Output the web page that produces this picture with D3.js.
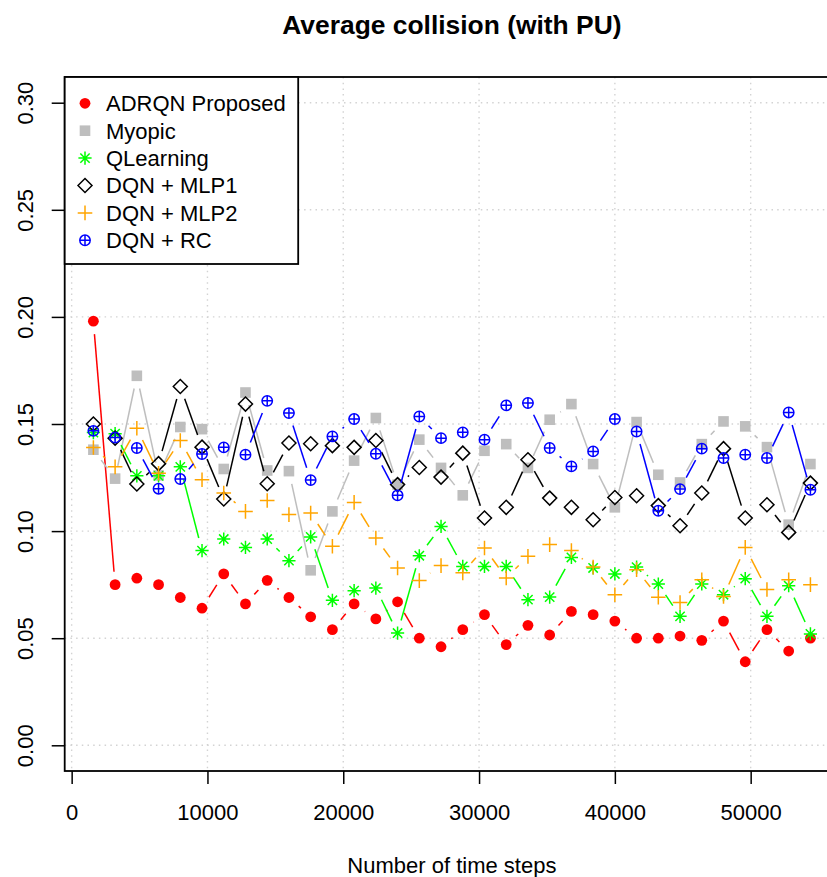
<!DOCTYPE html>
<html>
<head>
<meta charset="utf-8">
<script src="https://cdn.jsdelivr.net/npm/d3@7"></script>
<style>
  body { margin: 0; background: #fff; }
  text { font-family: "Liberation Sans", Arial, sans-serif; fill: #000; }
</style>
</head>
<body>
<svg width="827" height="877"></svg>
<script>
// time steps (x)
const steps = [1600, 3200, 4800, 6400, 8000, 9600, 11200, 12800, 14400, 16000,
  17600, 19200, 20800, 22400, 24000, 25600, 27200, 28800, 30400, 32000,
  33600, 35200, 36800, 38400, 40000, 41600, 43200, 44800, 46400, 48000,
  49600, 51200, 52800, 54400];

const adrqn = [0.198, 0.075, 0.078, 0.075, 0.069, 0.064, 0.080, 0.066, 0.077, 0.069,
  0.060, 0.054, 0.066, 0.059, 0.067, 0.050, 0.046, 0.054, 0.061, 0.047,
  0.056, 0.0515, 0.0625, 0.061, 0.058, 0.050, 0.050, 0.051, 0.049, 0.058,
  0.039, 0.054, 0.044, 0.050];
const myopic = [0.138, 0.1245, 0.1725, 0.126, 0.1486, 0.1476, 0.129, 0.1647, 0.1283, 0.128,
  0.0817, 0.1092, 0.1329, 0.1528, 0.1217, 0.1427, 0.1295, 0.1167, 0.1375, 0.1406,
  0.1295, 0.152, 0.1593, 0.1313, 0.1111, 0.1509, 0.1263, 0.1227, 0.1406, 0.1512,
  0.1489, 0.1392, 0.103, 0.1313];
const qlearning = [0.146, 0.1455, 0.1258, 0.1258, 0.130, 0.0909, 0.0963, 0.0924, 0.0963, 0.0862,
  0.0973, 0.0677, 0.0722, 0.0734, 0.0524, 0.0885, 0.1022, 0.0835, 0.0835, 0.0835,
  0.068, 0.0692, 0.0877, 0.0828, 0.080, 0.0832, 0.0753, 0.0602, 0.0753, 0.0703,
  0.0778, 0.0602, 0.0745, 0.052];
const mlp1 = [0.150, 0.1434, 0.122, 0.1315, 0.1675, 0.1392, 0.115, 0.1593, 0.1221, 0.1411,
  0.1408, 0.1399, 0.1391, 0.1423, 0.1217, 0.1297, 0.1252, 0.1364, 0.1061, 0.1111,
  0.1333, 0.1154, 0.1111, 0.1053, 0.1157, 0.1165, 0.1119, 0.1025, 0.1178, 0.1385,
  0.1061, 0.1123, 0.0994, 0.1224];
const mlp2 = [0.139, 0.130, 0.148, 0.127, 0.1423, 0.124, 0.1178, 0.1092, 0.1143, 0.1077,
  0.1084, 0.0929, 0.1134, 0.0968, 0.0828, 0.0769, 0.0839, 0.0805, 0.0921, 0.0781,
  0.0882, 0.0937, 0.0909, 0.0832, 0.0703, 0.082, 0.0691, 0.0667, 0.0773, 0.0695,
  0.0924, 0.0727, 0.0773, 0.075];
const rc = [0.1468, 0.1437, 0.1388, 0.1198, 0.1243, 0.136, 0.1391, 0.1357, 0.1608, 0.1551,
  0.1238, 0.1442, 0.1523, 0.1361, 0.1167, 0.1535, 0.1434, 0.1461, 0.1427, 0.1587,
  0.1598, 0.1388, 0.1302, 0.1372, 0.1523, 0.1465, 0.1095, 0.1196, 0.1385, 0.1341,
  0.1357, 0.1341, 0.1554, 0.1193];

const seriesNames = ["ADRQN Proposed", "Myopic", "QLearning", "DQN + MLP1", "DQN + MLP2", "DQN + RC"];
const seriesValues = [adrqn, myopic, qlearning, mlp1, mlp2, rc];
const seriesColors = ["#FF0000", "#BEBEBE", "#00FF00", "#000000", "#FFA500", "#0000FF"];
const seriesSymbols = ["dot", "square", "asterisk", "diamond", "plus", "circleplus"];

const xTicks = [0, 10000, 20000, 30000, 40000, 50000];
const yTicks = [0, 0.05, 0.10, 0.15, 0.20, 0.25, 0.30];

const svg = d3.select("svg");
const plotL = 64.7, plotR = 839.1, plotT = 77, plotB = 771;
const x = d3.scaleLinear().domain([-512, 56512]).range([plotL, plotR]);
const y = d3.scaleLinear().domain([-0.012, 0.312]).range([plotB, plotT]);

// grid
const grid = svg.append("g")
  .attr("stroke", "#D3D3D3").attr("stroke-width", 1.4).attr("stroke-dasharray", "1.5,4.2");
grid.selectAll(".gx").data(xTicks).join("line")
  .attr("x1", d => x(d)).attr("x2", d => x(d)).attr("y1", plotT).attr("y2", plotB);
grid.selectAll(".gy").data(yTicks).join("line")
  .attr("x1", plotL).attr("x2", plotR).attr("y1", d => y(d)).attr("y2", d => y(d));

// axes
const xAxis = svg.append("g").attr("transform", `translate(0,${plotB})`)
  .call(d3.axisBottom(x).tickValues(xTicks).tickFormat(d3.format("d")).tickSize(13).tickPadding(20));
xAxis.select(".domain").remove();
xAxis.selectAll("line").attr("stroke-width", 1.5);
xAxis.selectAll("text").attr("font-size", 22).attr("font-family", "Liberation Sans, Arial, sans-serif");

const yAxis = svg.append("g").attr("transform", `translate(${plotL},0)`)
  .call(d3.axisLeft(y).tickValues(yTicks).tickFormat(d3.format(".2f")).tickSize(13));
yAxis.select(".domain").remove();
yAxis.selectAll("line").attr("stroke-width", 1.5);
yAxis.selectAll("text")
  .attr("x", 0).attr("y", 0).attr("dy", 0)
  .attr("text-anchor", "middle")
  .attr("transform", "translate(-31.7,0) rotate(-90)")
  .attr("font-size", 22).attr("font-family", "Liberation Sans, Arial, sans-serif");

// symbols in R style
function drawSymbol(g, type, color) {
  if (type === "dot") {
    g.append("circle").attr("r", 5.4).attr("fill", color);
  } else if (type === "square") {
    g.append("rect").attr("x", -5.3).attr("y", -5.3).attr("width", 10.6).attr("height", 10.6).attr("fill", color);
  } else if (type === "asterisk") {
    const r = 6.6, d = r * 0.707;
    g.append("path").attr("d", `M${-r},0H${r}M0,${-r}V${r}M${-d},${-d}L${d},${d}M${-d},${d}L${d},${-d}`)
      .attr("stroke", color).attr("stroke-width", 1.5).attr("fill", "none");
  } else if (type === "diamond") {
    const r = 7;
    g.append("path").attr("d", `M0,${-r}L${r},0L0,${r}L${-r},0Z`)
      .attr("stroke", color).attr("stroke-width", 1.5).attr("fill", "none");
  } else if (type === "plus") {
    const r = 7.3;
    g.append("path").attr("d", `M${-r},0H${r}M0,${-r}V${r}`)
      .attr("stroke", color).attr("stroke-width", 1.5).attr("fill", "none");
  } else if (type === "circleplus") {
    const r = 5.2;
    g.append("circle").attr("r", r).attr("stroke", color).attr("stroke-width", 1.5).attr("fill", "none");
    g.append("path").attr("d", `M${-r},0H${r}M0,${-r}V${r}`)
      .attr("stroke", color).attr("stroke-width", 1.5);
  }
}

// type = "b": segments with a gap round each point
const gap = 13;
seriesValues.forEach((vals, k) => {
  const pts = vals.map((v, i) => [x(steps[i]), y(v)]);
  const g = svg.append("g");
  for (let i = 0; i < pts.length - 1; i++) {
    const [x0, y0] = pts[i], [x1, y1] = pts[i + 1];
    const L = Math.hypot(x1 - x0, y1 - y0);
    if (L <= 2 * gap) continue;
    const ux = (x1 - x0) / L, uy = (y1 - y0) / L;
    g.append("line")
      .attr("x1", x0 + ux * gap).attr("y1", y0 + uy * gap)
      .attr("x2", x1 - ux * gap).attr("y2", y1 - uy * gap)
      .attr("stroke", seriesColors[k]).attr("stroke-width", 1.5);
  }
  pts.forEach(p => {
    drawSymbol(g.append("g").attr("transform", `translate(${p[0]},${p[1]})`), seriesSymbols[k], seriesColors[k]);
  });
});

// box
svg.append("rect").attr("x", plotL).attr("y", plotT).attr("width", plotR - plotL).attr("height", plotB - plotT)
  .attr("fill", "none").attr("stroke", "#000").attr("stroke-width", 1.8);

// legend
const legend = svg.append("g");
legend.append("rect").attr("x", plotL).attr("y", plotT).attr("width", 233.5).attr("height", 187)
  .attr("fill", "#fff").attr("stroke", "#000").attr("stroke-width", 1.8);
seriesNames.forEach((name, k) => {
  const cy = 103.3 + k * 27.4;
  drawSymbol(legend.append("g").attr("transform", `translate(85,${cy})`), seriesSymbols[k], seriesColors[k]);
  legend.append("text").attr("x", 106).attr("y", cy).attr("dy", "0.36em")
    .attr("font-size", 22).text(name);
});

// titles
svg.append("text").attr("x", (plotL + plotR) / 2).attr("y", 34).attr("text-anchor", "middle")
  .attr("font-size", 26.4).attr("font-weight", "bold").text("Average collision (with PU)");
svg.append("text").attr("x", (plotL + plotR) / 2).attr("y", 873).attr("text-anchor", "middle")
  .attr("font-size", 22).text("Number of time steps");
</script>
</body>
</html>
